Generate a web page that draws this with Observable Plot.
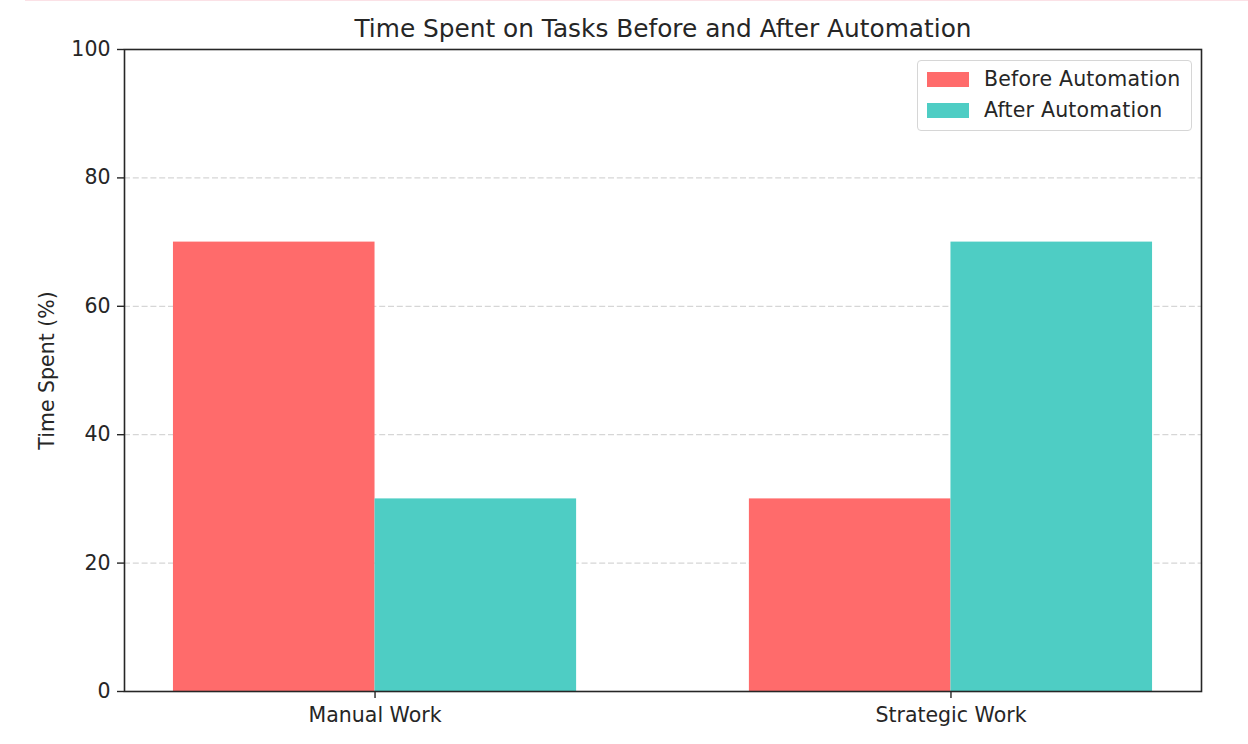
<!DOCTYPE html>
<html>
<head>
<meta charset="utf-8">
<script src="https://cdn.jsdelivr.net/npm/d3@7"></script>
<script src="https://cdn.jsdelivr.net/npm/@observablehq/plot@0.6"></script>
<style>
  html, body { margin: 0; padding: 0; background: #fff; }
  #wrap { position: relative; width: 1248px; height: 744px; overflow: hidden; font-family: "DejaVu Sans", sans-serif; color: #262626; }
  #topline { position: absolute; left: 25px; top: 0; width: 1223px; height: 1px; background: #fbe1e6; }
  #legend { position: absolute; left: 917px; top: 60px; width: 273px; height: 69px; border: 1px solid #d6d6d6; border-radius: 4px; background: rgba(255,255,255,0.8); box-sizing: content-box; }
  .row { position: absolute; left: 0; height: 24px; display: flex; align-items: center; }
  .sw { position: absolute; left: 9px; width: 42px; height: 15px; }
  .lab { position: absolute; left: 66px; font-size: 20.5px; line-height: 24px; white-space: nowrap; letter-spacing: 0.2px; }
</style>
</head>
<body>
<div id="wrap">
  <div id="topline"></div>
  <div id="chart"></div>
  <div id="legend"></div>
</div>
<script>
const title = "Time Spent on Tasks Before and After Automation";
const yLabel = "Time Spent (%)";
const categories = ["Manual Work", "Strategic Work"];
const seriesNames = ["Before Automation", "After Automation"];
const beforeValues = [70, 30];
const afterValues = [30, 70];
const seriesColors = ["#ff6b6b", "#4ecdc4"];
const yTicks = [0, 20, 40, 60, 80, 100];
const gridTicks = [20, 40, 60, 80];

const barWidth = 0.35;
const rows = [];
categories.forEach((c, i) => {
  rows.push({category: c, series: seriesNames[0], x1: i - barWidth, x2: i, value: beforeValues[i]});
  rows.push({category: c, series: seriesNames[1], x1: i, x2: i + barWidth, value: afterValues[i]});
});

const n = categories.length;
const span = (n - 1) + 2 * barWidth;
const pad = span * 0.05;

const chart = Plot.plot({
  width: 1248,
  height: 744,
  marginLeft: 124,
  marginRight: 47,
  marginTop: 49,
  marginBottom: 53,
  style: {fontFamily: "DejaVu Sans, sans-serif", fontSize: "20.5px", color: "#262626", background: "transparent"},
  x: {type: "linear", domain: [-barWidth - pad, (n - 1) + barWidth + pad]},
  y: {domain: [0, 100]},
  color: {domain: seriesNames, range: seriesColors},
  marks: [
    Plot.ruleY(gridTicks, {stroke: "#d6d6d6", strokeWidth: 1.2, strokeDasharray: "6,2.8"}),
    Plot.rectY(rows, {x1: "x1", x2: "x2", y: "value", fill: "series"}),
    Plot.frame({stroke: "#262626", strokeWidth: 1.6}),
    Plot.axisY({ticks: yTicks, tickSize: 7, tickPadding: 7, label: null, stroke: "#262626", strokeWidth: 1.4}),
    Plot.axisX({ticks: d3.range(n), tickFormat: i => categories[i], tickSize: 7, tickPadding: 9, label: null, stroke: "#262626", strokeWidth: 1.4}),
    Plot.text([title], {frameAnchor: "top", dy: -13, lineAnchor: "bottom", fontSize: 24.8, fill: "#262626"}),
    Plot.text([yLabel], {frameAnchor: "left", dx: -77, rotate: -90, textAnchor: "middle", lineAnchor: "middle", fontSize: 20.5, fill: "#262626"})
  ]
});
document.getElementById("chart").appendChild(chart);

const legend = document.getElementById("legend");
seriesNames.forEach((s, i) => {
  const row = document.createElement("div");
  row.className = "row";
  row.style.top = (6 + i * 31) + "px";
  row.style.width = "100%";
  const sw = document.createElement("div");
  sw.className = "sw";
  sw.style.background = seriesColors[i];
  sw.style.top = "4.5px";
  const lab = document.createElement("div");
  lab.className = "lab";
  lab.style.top = "0px";
  lab.textContent = s;
  row.appendChild(sw);
  row.appendChild(lab);
  legend.appendChild(row);
});
</script>
</body>
</html>
